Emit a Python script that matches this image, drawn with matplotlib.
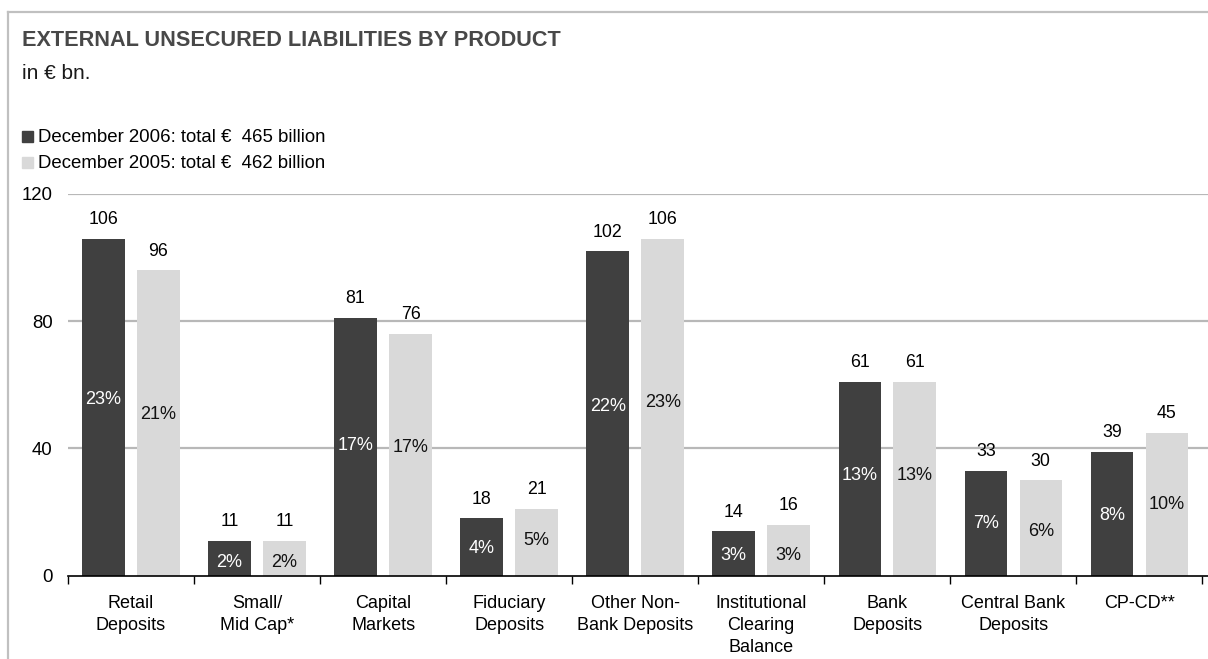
import numpy as np
import matplotlib
matplotlib.use("Agg")
import matplotlib.pyplot as plt
from matplotlib.lines import Line2D
from matplotlib.patches import Rectangle

plt.rcParams['font.family'] = ['Liberation Sans', 'DejaVu Sans']

categories = ["Retail\nDeposits", "Small/\nMid Cap*", "Capital\nMarkets",
              "Fiduciary\nDeposits", "Other Non-\nBank Deposits",
              "Institutional\nClearing\nBalance", "Bank\nDeposits",
              "Central Bank\nDeposits", "CP-CD**"]
dec2006 = [106, 11, 81, 18, 102, 14, 61, 33, 39]
dec2005 = [96, 11, 76, 21, 106, 16, 61, 30, 45]
share2006 = ["23%", "2%", "17%", "4%", "22%", "3%", "13%", "7%", "8%"]
share2005 = ["21%", "2%", "17%", "5%", "23%", "3%", "13%", "6%", "10%"]
# heights (in € bn.) at which the share labels sit inside the bars
share2006_pos = [55.5, 4.3, 41, 8.7, 53.1, 6.3, 31.6, 16.3, 19.0]
share2005_pos = [50.8, 4.3, 40.4, 11.0, 54.5, 6.3, 31.4, 13.9, 22.4]
legend_labels = ["December 2006: total €  465 billion",
                 "December 2005: total €  462 billion"]
yticks = [0, 40, 80, 120]

DARK = '#404040'
LIGHT = '#d9d9d9'
W, H = 1208, 659

fig = plt.figure(figsize=(W / 100, H / 100), dpi=100)
ax = fig.add_axes([68 / W, 1 - 575.7 / H, 1140 / W, (575.7 - 194) / H])

x = np.arange(len(categories))
off, bw = 0.218, 0.337
ax.bar(x - off, dec2006, bw, color=DARK, zorder=2)
ax.bar(x + off, dec2005, bw, color=LIGHT, zorder=2)

for i in range(len(categories)):
    ax.text(x[i] - off, dec2006[i] + 6.0, str(dec2006[i]), ha='center', va='center',
            fontsize=12.8, color='black')
    ax.text(x[i] + off, dec2005[i] + 6.0, str(dec2005[i]), ha='center', va='center',
            fontsize=12.8, color='black')
    ax.text(x[i] - off, share2006_pos[i], share2006[i], ha='center', va='center',
            fontsize=13, color='white')
    ax.text(x[i] + off, share2005_pos[i], share2005[i], ha='center', va='center',
            fontsize=13, color='#111111')

ax.set_xlim(-0.5, len(categories) - 0.5 + 0.045)
ax.set_ylim(0, 120)
ax.set_yticks(yticks)
ax.tick_params(axis='y', length=0, pad=11, labelsize=13.4)
ax.set_xticks(x)
ax.set_xticklabels(categories, fontsize=13, linespacing=1.38, va='top')
ax.tick_params(axis='x', length=0, pad=14)
ax.set_xticks(np.arange(len(categories) + 1) - 0.5, minor=True)
ax.tick_params(axis='x', which='minor', length=6, width=1, color='black', direction='out')
for g in yticks[1:]:
    ax.axhline(g, color='#b8b8b8', lw=1.6, zorder=1)

for s in ['top', 'right', 'left']:
    ax.spines[s].set_visible(False)
ax.spines['bottom'].set_linewidth(1.2)
ax.spines['bottom'].set_zorder(3)

# outer frame (top and left only)
fig.add_artist(Line2D([8 / W, 8 / W], [0, 1 - 12 / H], transform=fig.transFigure,
                      color='#c0c0c0', lw=1.6))
fig.add_artist(Line2D([8 / W, 1], [1 - 12 / H, 1 - 12 / H], transform=fig.transFigure,
                      color='#c0c0c0', lw=1.6))

fig.text(22.5 / W, 1 - 46 / H, "EXTERNAL UNSECURED LIABILITIES BY PRODUCT",
         fontsize=15.6, fontweight='bold', color='#484848', va='baseline')
fig.text(22.5 / W, 1 - 79 / H, "in € bn.", fontsize=15, color='#1a1a1a', va='baseline')

for j, (lab, col) in enumerate(zip(legend_labels, [DARK, LIGHT])):
    base = 142 + 26 * j
    fig.add_artist(Rectangle((22 / W, 1 - (base) / H), 11 / W, 11 / H,
                             transform=fig.transFigure, color=col))
    fig.text(38 / W, 1 - base / H, lab, fontsize=13.4, color='black', va='baseline')

fig.savefig('out.png', dpi=100)
